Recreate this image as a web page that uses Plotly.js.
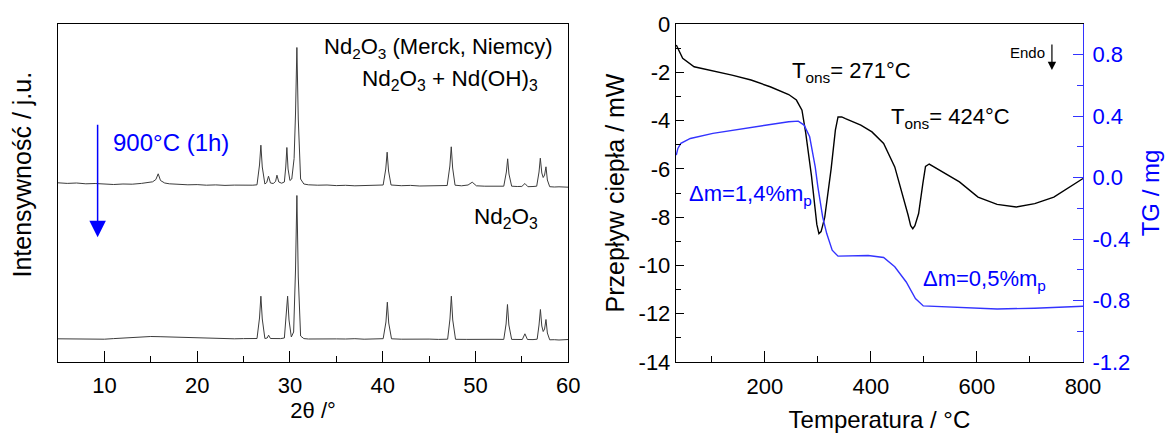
<!DOCTYPE html>
<html><head><meta charset="utf-8">
<script src="https://cdn.plot.ly/plotly-3.0.1.min.js"></script>
<style>html,body{margin:0;padding:0;background:#fff}#chart{width:1174px;height:435px}</style>
</head><body><div id="chart"></div>
<script>
const FONT = 'Liberation Sans, Arial, sans-serif';

// ---- XRD patterns (2θ in degrees, intensity in arbitrary units) ----
const twoThetaUpper = [5, 6, 7, 8, 9, 10, 11, 12, 13, 14,
  14.6, 15.2, 15.55, 15.8, 16.05, 16.5, 17, 18, 19, 20,
  21, 22, 23, 24, 25, 26, 26.45, 26.72, 26.87, 27.02,
  27.3, 27.5, 27.69, 27.9, 28.2, 28.45, 28.6, 28.8, 29.1, 29.4,
  29.55, 29.67, 29.8, 30.0, 30.2, 30.45, 30.6, 30.75, 30.9, 31.15,
  31.5, 32, 33, 34, 35, 36, 37, 38, 39, 40.05,
  40.33, 40.48, 40.63, 40.9, 42, 43, 44, 45, 46, 46.95,
  47.24, 47.39, 47.54, 47.8, 48.5, 49.2, 49.65, 50.1, 51, 52,
  53.05, 53.33, 53.47, 53.61, 53.9, 54.5, 55.0, 55.33, 55.65, 56.2,
  56.6, 56.85, 56.99, 57.15, 57.3, 57.45, 57.6, 57.75, 58.0, 58.5,
  59, 60];
const intensityUpper = [26.2, 25.6, 26.0, 25.2, 25.5, 24.8, 24.5, 25.0, 24.8, 25.6,
  26.5, 27.2, 29.5, 35.2, 28.5, 26.0, 25.2, 24.6, 24.2, 24.4,
  23.8, 24.1, 23.6, 23.9, 23.5, 23.8, 24.2, 44, 63.8, 42,
  25.0, 26.5, 32.8, 26.0, 25.5, 27.5, 33.8, 27.0, 25.8, 27.0,
  42, 61.5, 40, 28.5, 30, 50.5, 95, 161.5, 90, 30,
  25.0, 24.2, 23.8, 24.0, 23.4, 23.7, 23.2, 23.6, 23.3, 24.0,
  40, 56.8, 38, 24.0, 23.3, 23.6, 23.0, 23.3, 22.9, 23.5,
  43, 62.2, 41, 23.8, 23.2, 24.0, 26.8, 23.2, 22.8, 23.0,
  22.8, 37, 50.2, 35, 22.8, 22.5, 22.6, 25.5, 22.3, 22.5,
  22.8, 37, 50.8, 36, 31.5, 34, 42.2, 29, 22.3, 22.0,
  22.2, 21.8];
const twoThetaLower = [5, 6, 7, 8, 9, 10, 11, 12, 13, 14,
  15, 16, 17, 18, 19, 20, 21, 22, 23, 24,
  25, 26, 26.45, 26.72, 26.87, 27.02, 27.3, 27.55, 27.7, 27.9,
  28.5, 29.0, 29.4, 29.6, 29.75, 29.9, 30.15, 30.4, 30.6, 30.75,
  30.9, 31.15, 31.5, 32, 33, 34, 35, 36, 37, 38,
  39, 40.05, 40.35, 40.5, 40.65, 40.95, 42, 43, 44, 45,
  46, 47.0, 47.25, 47.4, 47.55, 47.85, 49, 50, 51, 52,
  53.05, 53.3, 53.45, 53.6, 53.9, 54.5, 55.05, 55.33, 55.6, 56.2,
  56.65, 56.85, 57.0, 57.15, 57.3, 57.45, 57.6, 57.75, 58.0, 58.5,
  59, 60];
const intensityLower = [23.2, 23.0, 23.3, 22.9, 23.1, 22.8, 23.4, 24.0, 24.8, 25.4,
  25.5, 25.3, 25.0, 24.6, 24.2, 23.9, 23.7, 23.5, 23.6, 23.2,
  23.4, 23.2, 23.5, 44, 65.8, 43, 23.5, 24, 26.8, 23.5,
  23.2, 23.4, 24, 44, 65.8, 42, 25, 30, 92, 166.5,
  85, 26, 23.4, 23.0, 23.2, 22.9, 23.1, 23.0, 23.3, 22.8,
  23.1, 23.3, 40, 59.8, 39, 23.2, 22.8, 23.0, 22.7, 22.9,
  22.6, 22.8, 43, 65.8, 42, 22.7, 22.6, 22.8, 22.5, 22.7,
  22.6, 38, 57.5, 37, 22.6, 22.4, 22.5, 28.2, 22.5, 22.4,
  22.8, 37, 52.5, 36, 30.5, 33, 42.5, 29, 22.2, 22.3,
  22.0, 22.5];
const upperOffset = 153;

// ---- DSC / TG (temperature in °C) ----
const dscTemp = [33, 45, 66.6, 102, 138, 174, 210, 245, 259.5, 270,
  277, 288, 295, 298, 302, 306, 309, 313, 325, 333,
  338, 345, 352, 381, 402, 424, 445, 459.5, 470, 475,
  479, 483, 486, 490, 498, 503, 510, 531, 567, 602,
  638, 674, 709, 745, 781, 800];
const dscHeatFlow = [-0.87, -1.42, -1.77, -1.94, -2.12, -2.32, -2.6, -2.92, -3.15, -3.57,
  -4.5, -6.3, -7.6, -8.3, -8.68, -8.6, -8.35, -8.0, -6.0, -4.4,
  -3.85, -3.85, -3.92, -4.19, -4.47, -4.95, -5.92, -7.03, -7.9, -8.35,
  -8.48, -8.35, -8.1, -7.85, -6.6, -5.9, -5.8, -6.06, -6.54, -7.17,
  -7.47, -7.58, -7.44, -7.17, -6.68, -6.4];
const tgTemp = [33, 36, 41.6, 59.5, 102, 174, 245, 263, 274, 284.5,
  290, 295, 300, 305, 309, 316.7, 327, 338, 395, 424,
  445, 466.6, 484, 498.8, 531, 567, 638, 709, 800];
const tgMass = [0.147, 0.19, 0.223, 0.255, 0.288, 0.327, 0.364, 0.368, 0.342, 0.266,
  0.17, 0.07, -0.06, -0.18, -0.255, -0.364, -0.472, -0.511, -0.507, -0.52,
  -0.58, -0.679, -0.787, -0.835, -0.84, -0.846, -0.855, -0.85, -0.837];

// ---- tick labels ----
const heatFlowTicks = [0, -2, -4, -6, -8, -10, -12, -14];
const heatFlowTickText = ['0', '-2', '-4', '-6', '-8', '-10', '-12', '-14'];
const tgTicks = [-1.2, -0.8, -0.4, 0, 0.4, 0.8];
const tgTickText = ['-1.2', '-0.8', '-0.4', '0.0', '0.4', '0.8'];

const BLUE_TXT = '#0000ff';
const BLUE_LINE = '#3333ff';

const traces = [
  {x: twoThetaUpper, y: intensityUpper.map(v => v + upperOffset), xaxis: 'x', yaxis: 'y',
   mode: 'lines', line: {color: '#3c3c3c', width: 1}, hoverinfo: 'skip'},
  {x: twoThetaLower, y: intensityLower, xaxis: 'x', yaxis: 'y',
   mode: 'lines', line: {color: '#3c3c3c', width: 1}, hoverinfo: 'skip'},
  {x: dscTemp, y: dscHeatFlow, xaxis: 'x2', yaxis: 'y2',
   mode: 'lines', line: {color: '#000', width: 1.4}, hoverinfo: 'skip'},
  {x: tgTemp, y: tgMass, xaxis: 'x2', yaxis: 'y3',
   mode: 'lines', line: {color: BLUE_LINE, width: 1.4}, hoverinfo: 'skip'}
];

const axBase = {showgrid: false, zeroline: false, showline: true, linecolor: '#000', linewidth: 1,
  tickcolor: '#000', tickfont: {family: FONT, size: 22, color: '#000'}};

const layout = {
  width: 1174, height: 435,
  margin: {l: 58, r: 91, t: 24, b: 73},
  paper_bgcolor: '#fff', plot_bgcolor: 'rgba(0,0,0,0)',
  showlegend: false,
  font: {family: FONT, color: '#000'},
  xaxis: Object.assign({}, axBase, {
    domain: [0, 0.4978], range: [5, 60], tick0: 0, dtick: 10, ticks: 'inside', ticklen: 11,
    ticklabelstandoff: 4,
    minor: {dtick: 5, tick0: 0, ticks: 'inside', ticklen: 6, tickcolor: '#000'},
    mirror: true, anchor: 'y',
    title: {text: '2θ /°', font: {family: FONT, size: 22}, standoff: 2}
  }),
  yaxis: Object.assign({}, axBase, {
    domain: [0, 1], range: [0, 338], showticklabels: false, ticks: '', mirror: true, anchor: 'x'
  }),
  xaxis2: Object.assign({}, axBase, {
    domain: [0.6027, 1], range: [32, 800], tick0: 0, dtick: 200, ticks: 'inside', ticklen: 11,
    ticklabelstandoff: 5,
    minor: {dtick: 100, tick0: 0, ticks: 'inside', ticklen: 6, tickcolor: '#000'},
    mirror: true, anchor: 'y2',
    title: {text: 'Temperatura / °C', font: {family: FONT, size: 24}, standoff: 12}
  }),
  yaxis2: Object.assign({}, axBase, {
    domain: [0, 1], range: [-14, 0], tickmode: 'array', tickvals: heatFlowTicks, ticktext: heatFlowTickText,
    ticks: 'inside', ticklen: 8,
    minor: {dtick: 1, tick0: 0, ticks: 'inside', ticklen: 5, tickcolor: '#000'},
    mirror: false, anchor: 'x2',
    title: {text: 'Przepływ ciepła / mW', font: {family: FONT, size: 25}, standoff: 6}
  }),
  yaxis3: Object.assign({}, axBase, {
    overlaying: 'y2', side: 'right', anchor: 'x2', range: [-1.2, 1.0],
    tickmode: 'array', tickvals: tgTicks, ticktext: tgTickText,
    ticks: 'inside', ticklen: 10, linecolor: BLUE_LINE, tickcolor: BLUE_LINE,
    ticklabelstandoff: 4,
    minor: {dtick: 0.2, tick0: 0, ticks: 'inside', ticklen: 6, tickcolor: BLUE_LINE},
    tickfont: {family: FONT, size: 22, color: BLUE_TXT},
    title: {text: 'TG / mg', font: {family: FONT, size: 24, color: BLUE_TXT}, standoff: 12}
  }),
  annotations: [
    {xref: 'paper', yref: 'paper', x: -0.035, y: 0.555, xanchor: 'center', yanchor: 'middle',
     textangle: -90, showarrow: false, text: 'Intensywność / j.u.', font: {family: FONT, size: 25, color: '#000'}},
    {xref: 'x', yref: 'y', x: 10.67, y: 219.5, xanchor: 'left', yanchor: 'middle', showarrow: false,
     text: '900°C (1h)', font: {family: FONT, size: 24, color: BLUE_TXT}},
    {xref: 'x', yref: 'y', x: 9.27, y: 124.8, ax: 0, ay: -114, text: '', showarrow: true,
     arrowhead: 2, arrowsize: 2.2, arrowwidth: 1.5, arrowcolor: BLUE_TXT, standoff: 0},
    {xref: 'x', yref: 'y', x: 58.52, y: 314.5, xanchor: 'right', yanchor: 'middle', showarrow: false,
     text: 'Nd<sub>2</sub>O<sub>3</sub> (Merck, Niemcy)', font: {family: FONT, size: 22, color: '#000'}},
    {xref: 'x', yref: 'y', x: 56.99, y: 282.5, xanchor: 'right', yanchor: 'middle', showarrow: false,
     text: 'Nd<sub>2</sub>O<sub>3</sub> + Nd(OH)<sub>3</sub>', font: {family: FONT, size: 22.5, color: '#000'}},
    {xref: 'x', yref: 'y', x: 56.99, y: 144.5, xanchor: 'right', yanchor: 'middle', showarrow: false,
     text: 'Nd<sub>2</sub>O<sub>3</sub>', font: {family: FONT, size: 22.5, color: '#000'}},
    {xref: 'x2', yref: 'y2', x: 248, y: -1.99, xanchor: 'left', yanchor: 'middle', showarrow: false,
     text: 'T<sub>ons</sub>= 271°C', font: {family: FONT, size: 22, color: '#000'}},
    {xref: 'x2', yref: 'y2', x: 434, y: -3.9, xanchor: 'left', yanchor: 'middle', showarrow: false,
     text: 'T<sub>ons</sub>= 424°C', font: {family: FONT, size: 22, color: '#000'}},
    {xref: 'x2', yref: 'y2', x: 53, y: -7.09, xanchor: 'left', yanchor: 'middle', showarrow: false,
     text: 'Δm=1,4%m<sub>p</sub>', font: {family: FONT, size: 22, color: BLUE_TXT}},
    {xref: 'x2', yref: 'y2', x: 495, y: -10.61, xanchor: 'left', yanchor: 'middle', showarrow: false,
     text: 'Δm=0,5%m<sub>p</sub>', font: {family: FONT, size: 22, color: BLUE_TXT}},
    {xref: 'x2', yref: 'y2', x: 695, y: -1.16, xanchor: 'center', yanchor: 'middle', showarrow: false,
     text: 'Endo', font: {family: FONT, size: 15, color: '#000'}},
    {xref: 'x2', yref: 'y2', x: 741.4, y: -1.91, ax: 0, ay: -27, text: '', showarrow: true,
     arrowhead: 2, arrowsize: 1.4, arrowwidth: 1.2, arrowcolor: '#000', standoff: 0}
  ]
};

Plotly.newPlot('chart', traces, layout, {displayModeBar: false, staticPlot: true});
</script>
</body></html>
